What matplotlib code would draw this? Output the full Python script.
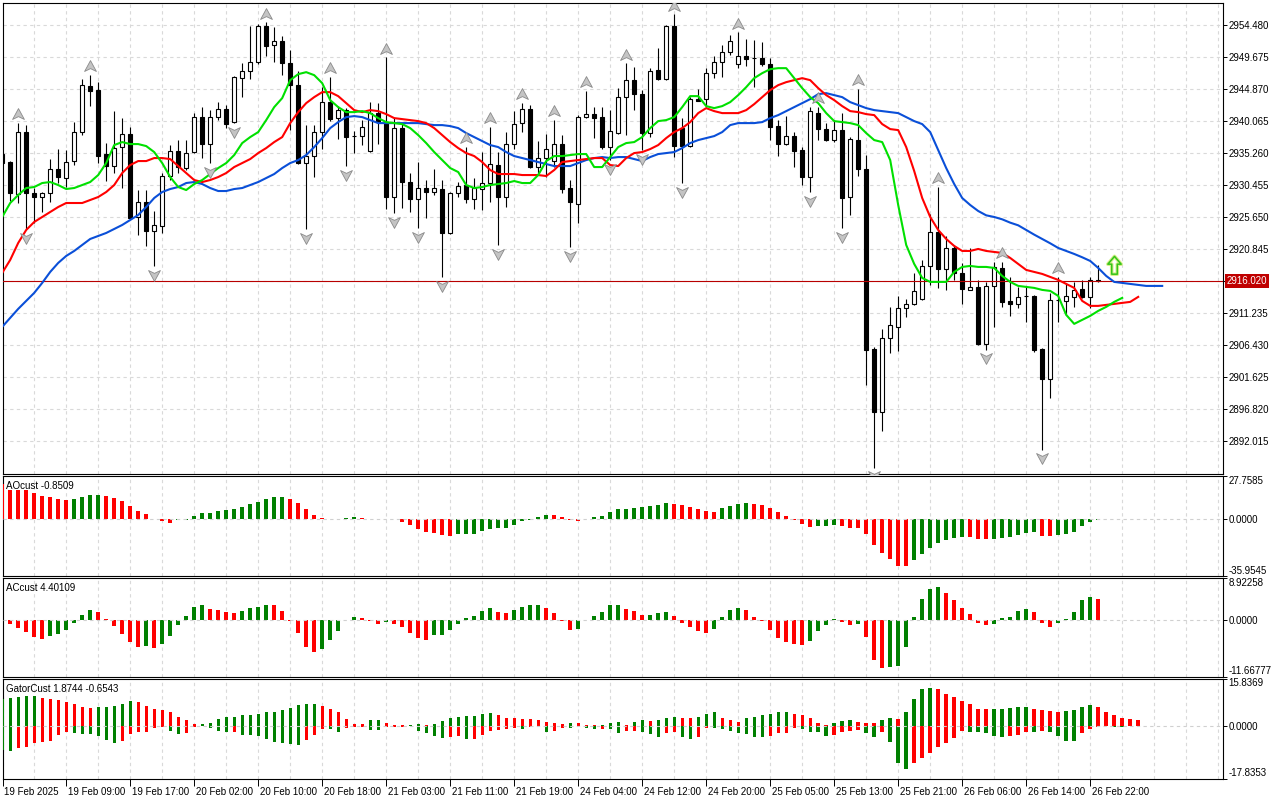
import numpy as np
import matplotlib
import matplotlib.pyplot as plt
from matplotlib.path import Path
from matplotlib.transforms import ScaledTranslation, blended_transform_factory

matplotlib.use("Agg")

plt.rcParams['font.family'] = ['Liberation Sans', 'DejaVu Sans']
plt.rcParams['font.size'] = 7

# --- H1 candles, 19 Feb 2025 00:00 .. 26 Feb 2025 ---
opens = [2935.1, 2933.9, 2929.1, 2938.4, 2929.25, 2928.65, 2929.25, 2932.85, 2931.5, 2934.05,
         2938.4, 2945.3, 2944.7, 2935.1, 2933.3, 2936.15, 2938.1, 2925.65, 2927.9, 2923.55,
         2924.3, 2931.8, 2935.55, 2933.0, 2935.4, 2940.65, 2936.6, 2940.65, 2941.85, 2939.9,
         2946.5, 2947.55, 2948.9, 2954.3, 2951.45, 2952.05, 2948.75, 2945.45, 2933.75, 2934.8,
         2938.4, 2942.9, 2940.5, 2941.7, 2937.8, 2937.8, 2935.55, 2941.25, 2939.9, 2928.65,
         2939.0, 2930.9, 2928.35, 2930.0, 2929.4, 2929.85, 2923.25, 2929.25, 2930.45, 2928.35,
         2929.85, 2930.75, 2933.45, 2928.65, 2936.6, 2939.75, 2941.85, 2933.15, 2934.5, 2934.05,
         2936.6, 2930.0, 2927.6, 2940.65, 2941.1, 2940.65, 2936.15, 2938.25, 2943.65, 2946.2,
         2944.1, 2938.25, 2947.7, 2946.35, 2954.3, 2939.0, 2936.3, 2943.35, 2943.35, 2947.25,
         2948.9, 2950.4, 2948.6, 2949.8, 2949.5, 2949.5, 2948.6, 2939.3, 2936.6, 2937.8,
         2935.7, 2931.65, 2941.25, 2938.85, 2937.2, 2938.7, 2928.65, 2937.2, 2932.85, 2905.85,
         2896.4, 2907.5, 2909.15, 2912.0, 2912.6, 2913.35, 2918.3, 2923.4, 2917.85, 2921.0,
         2917.25, 2914.7, 2915.15, 2906.6, 2915.3, 2918.0, 2913.05, 2912.6, 2913.8, 2913.8,
         2905.85, 2901.35, 2913.2, 2913.05, 2913.65, 2914.85, 2913.65, 2916.2]
highs = [2936.45, 2934.05, 2939.75, 2939.45, 2930.0, 2929.4, 2934.35, 2935.85, 2935.7, 2939.9,
         2946.35, 2946.95, 2945.9, 2936.75, 2941.55, 2940.5, 2939.15, 2929.7, 2929.7, 2926.55,
         2932.25, 2936.45, 2937.2, 2937.2, 2941.25, 2942.15, 2941.7, 2942.9, 2942.45, 2946.8,
         2948.75, 2954.3, 2954.6, 2954.9, 2954.15, 2952.8, 2950.7, 2947.55, 2939.45, 2939.45,
         2945.15, 2946.65, 2942.3, 2942.0, 2938.55, 2940.2, 2942.9, 2942.75, 2949.65, 2940.5,
         2939.75, 2932.25, 2933.9, 2931.2, 2932.85, 2931.2, 2929.4, 2930.9, 2936.15, 2931.5,
         2935.4, 2939.15, 2935.4, 2938.4, 2941.55, 2942.75, 2942.45, 2937.05, 2938.1, 2940.2,
         2937.95, 2931.2, 2940.95, 2944.55, 2942.15, 2942.15, 2941.7, 2945.0, 2948.75, 2948.15,
         2944.7, 2948.0, 2951.0, 2954.45, 2956.1, 2940.5, 2943.65, 2944.85, 2948.0, 2949.8,
         2951.45, 2952.95, 2953.4, 2952.35, 2952.2, 2951.9, 2949.5, 2940.2, 2940.8, 2938.4,
         2936.15, 2942.15, 2942.15, 2939.75, 2940.2, 2941.25, 2937.65, 2944.85, 2934.95, 2906.15,
         2908.85, 2912.15, 2913.8, 2913.35, 2917.25, 2919.2, 2926.1, 2930.15, 2922.8, 2921.45,
         2918.75, 2921.0, 2916.2, 2915.9, 2918.9, 2918.9, 2916.65, 2915.15, 2915.15, 2913.95,
         2906.0, 2914.25, 2916.65, 2915.75, 2915.9, 2916.2, 2916.65, 2918.45]
lows = [2932.7, 2928.05, 2927.75, 2923.85, 2924.75, 2926.4, 2927.9, 2930.75, 2930.15, 2933.45,
        2937.95, 2942.3, 2933.75, 2931.05, 2932.25, 2930.0, 2925.3, 2922.95, 2921.3, 2918.3,
        2923.25, 2931.2, 2932.25, 2932.7, 2935.25, 2934.5, 2933.75, 2940.2, 2939.0, 2939.75,
        2943.65, 2946.35, 2948.6, 2949.8, 2948.9, 2946.95, 2938.7, 2933.6, 2923.85, 2931.65,
        2935.85, 2940.05, 2937.35, 2933.3, 2935.25, 2936.45, 2935.4, 2936.6, 2926.85, 2926.25,
        2927.0, 2926.4, 2924.0, 2925.5, 2928.95, 2916.65, 2923.1, 2928.65, 2927.75, 2926.85,
        2926.7, 2927.9, 2921.45, 2927.15, 2935.85, 2938.4, 2933.0, 2931.95, 2931.65, 2933.15,
        2929.25, 2921.15, 2924.75, 2940.5, 2937.5, 2935.85, 2934.2, 2938.1, 2937.95, 2941.7,
        2935.7, 2937.65, 2946.2, 2946.2, 2934.65, 2930.75, 2936.15, 2943.0, 2942.15, 2946.5,
        2946.65, 2949.95, 2948.0, 2948.3, 2945.15, 2948.3, 2937.2, 2934.8, 2936.45, 2933.15,
        2930.45, 2929.4, 2937.2, 2937.05, 2936.9, 2924.0, 2925.95, 2931.8, 2900.45, 2888.0,
        2893.55, 2905.25, 2905.55, 2910.65, 2912.45, 2913.2, 2915.45, 2915.0, 2914.7, 2916.2,
        2912.6, 2914.7, 2906.45, 2905.7, 2909.15, 2912.15, 2910.8, 2912.0, 2909.9, 2905.4,
        2890.7, 2898.5, 2909.9, 2910.95, 2912.15, 2913.5, 2912.0, 2915.9]
closes = [2933.75, 2929.25, 2938.4, 2929.25, 2928.65, 2929.25, 2932.85, 2931.65, 2933.9, 2938.4,
          2945.45, 2944.55, 2934.8, 2933.3, 2936.0, 2938.1, 2925.5, 2927.9, 2923.55, 2924.45,
          2931.8, 2935.55, 2933.15, 2935.25, 2940.65, 2936.6, 2940.65, 2941.85, 2939.6, 2946.65,
          2947.55, 2948.9, 2954.3, 2951.3, 2952.05, 2948.75, 2945.45, 2933.75, 2934.8, 2938.4,
          2942.9, 2940.35, 2941.7, 2937.65, 2937.75, 2939.15, 2941.25, 2939.9, 2928.65, 2939.0,
          2930.9, 2928.35, 2930.0, 2929.4, 2930.0, 2923.25, 2929.25, 2930.3, 2928.35, 2930.0,
          2930.75, 2933.6, 2928.65, 2936.6, 2939.6, 2941.85, 2933.15, 2934.5, 2935.85, 2936.6,
          2929.85, 2927.9, 2940.65, 2941.1, 2940.5, 2936.15, 2938.55, 2943.65, 2946.2, 2944.1,
          2938.25, 2947.55, 2946.35, 2954.3, 2936.3, 2936.3, 2943.35, 2943.05, 2947.25, 2948.9,
          2950.4, 2952.05, 2949.8, 2949.35, 2949.5, 2948.6, 2939.15, 2936.6, 2937.8, 2935.55,
          2931.65, 2941.55, 2938.85, 2937.2, 2938.7, 2928.5, 2937.35, 2932.85, 2905.7, 2896.4,
          2907.5, 2909.45, 2912.0, 2912.6, 2914.55, 2918.3, 2923.4, 2917.85, 2921.0, 2917.25,
          2914.85, 2915.15, 2906.6, 2915.3, 2918.15, 2912.9, 2912.6, 2913.65, 2913.8, 2905.7,
          2901.35, 2913.2, 2913.25, 2913.8, 2914.7, 2913.65, 2916.2, 2916.02]

# Alligator lines as drawn (already shifted forward)
jaw = [2909.15, 2910.5, 2911.85, 2913.05, 2914.25, 2915.75, 2917.4, 2918.75, 2919.8, 2920.55,
       2921.45, 2922.35, 2922.8, 2923.25, 2923.85, 2924.45, 2925.2, 2925.95, 2927.15, 2928.5,
       2929.4, 2929.85, 2930.15, 2930.75, 2930.9, 2930.6, 2930.0, 2929.55, 2929.55, 2929.85,
       2930.0, 2930.45, 2930.9, 2931.5, 2932.1, 2933.0, 2933.75, 2934.2, 2934.95, 2936.15,
       2937.5, 2939.0, 2939.9, 2940.65, 2940.8, 2940.65, 2940.2, 2939.75, 2939.75, 2939.75,
       2939.75, 2939.75, 2939.75, 2939.6, 2939.45, 2939.45, 2939.3, 2939.0, 2938.25, 2937.65,
       2937.05, 2936.45, 2936.15, 2935.4, 2934.8, 2934.5, 2934.2, 2933.9, 2933.6, 2933.3,
       2933.3, 2933.3, 2933.75, 2934.2, 2934.5, 2934.65, 2934.5, 2934.65, 2934.65, 2934.35,
       2934.05, 2934.65, 2935.1, 2935.25, 2935.4, 2936.0, 2936.75, 2937.2, 2937.5, 2937.8,
       2938.4, 2939.45, 2939.75, 2939.75, 2939.75, 2939.9, 2940.5, 2940.95, 2941.55, 2942.15,
       2942.75, 2943.35, 2944.1, 2944.25, 2943.95, 2943.65, 2942.9, 2942.45, 2942.0, 2941.7,
       2941.55, 2941.4, 2941.25, 2940.65, 2940.05, 2939.6, 2938.4, 2935.7, 2933.0, 2930.6,
       2928.5, 2927.45, 2926.55, 2925.9, 2925.65, 2925.3, 2924.8, 2924.4, 2923.7, 2923.0,
       2922.35, 2921.7, 2921.0, 2920.55, 2920.1, 2919.6, 2919.05, 2918.0, 2916.8, 2915.9,
       2915.75, 2915.6, 2915.45, 2915.3, 2915.3, 2915.3]
teeth = [2917.25, 2919.2, 2921.75, 2923.7, 2924.9, 2925.65, 2926.4, 2927.15, 2927.75, 2927.75,
         2927.75, 2928.2, 2928.65, 2929.4, 2930.45, 2932.25, 2933.45, 2934.05, 2934.05, 2934.5,
         2934.5, 2934.35, 2933.3, 2932.25, 2931.2, 2930.9, 2931.2, 2931.65, 2932.25, 2933.15,
         2933.75, 2934.35, 2935.25, 2936.0, 2936.9, 2937.65, 2939.75, 2941.4, 2942.75, 2943.65,
         2944.4, 2944.4, 2943.8, 2942.75, 2941.7, 2941.4, 2941.7, 2941.55, 2941.1, 2940.5,
         2940.35, 2940.2, 2940.05, 2939.75, 2939.0, 2937.95, 2936.9, 2936.0, 2935.25, 2934.8,
         2933.9, 2932.7, 2932.1, 2932.1, 2932.1, 2931.95, 2931.95, 2931.95, 2931.8, 2932.7,
         2933.9, 2934.05, 2934.2, 2934.35, 2934.5, 2934.5, 2933.45, 2933.3, 2934.5, 2935.25,
         2935.4, 2935.85, 2936.45, 2937.5, 2938.4, 2939.0, 2939.9, 2941.25, 2942.0, 2941.55,
         2941.25, 2941.25, 2941.25, 2941.7, 2942.6, 2943.65, 2944.7, 2945.45, 2945.9, 2946.2,
         2946.5, 2946.2, 2945.0, 2943.95, 2943.2, 2942.3, 2941.55, 2941.4, 2941.1, 2940.95,
         2939.6, 2938.85, 2938.7, 2936.15, 2932.55, 2928.5, 2925.65, 2923.7, 2922.35, 2921.3,
         2920.55, 2920.55, 2920.85, 2920.55, 2920.4, 2920.25, 2919.5, 2918.6, 2917.7, 2917.4,
         2917.1, 2916.65, 2916.2, 2915.6, 2915.0, 2913.05, 2912.3, 2912.3, 2912.45, 2912.6,
         2912.75, 2912.9, 2913.65]
lips = [2925.65, 2927.75, 2928.95, 2930.0, 2930.15, 2930.75, 2930.9, 2930.45, 2929.85, 2930.0,
        2930.45, 2930.9, 2931.95, 2933.75, 2936.45, 2936.9, 2936.6, 2936.6, 2936.3, 2935.4,
        2933.75, 2931.65, 2930.15, 2929.7, 2930.6, 2931.2, 2932.1, 2933.0, 2933.75, 2934.95,
        2936.75, 2937.65, 2938.4, 2940.2, 2942.15, 2943.5, 2946.2, 2947.1, 2947.4, 2946.95,
        2945.75, 2943.2, 2942.15, 2941.4, 2941.4, 2941.55, 2941.25, 2940.5, 2939.9, 2939.75,
        2939.6, 2939.0, 2937.95, 2936.75, 2935.4, 2934.2, 2933.0, 2932.4, 2930.45, 2930.0,
        2930.15, 2930.45, 2930.6, 2930.75, 2931.05, 2930.75, 2930.75, 2931.95, 2934.05, 2934.8,
        2934.8, 2934.95, 2935.1, 2935.1, 2933.15, 2933.15, 2934.65, 2936.15, 2936.75, 2936.9,
        2937.65, 2939.0, 2940.05, 2940.2, 2940.65, 2942.15, 2943.8, 2943.8, 2942.3, 2942.0,
        2942.3, 2942.9, 2943.95, 2945.15, 2946.5, 2947.25, 2947.85, 2948.0, 2948.0, 2946.5,
        2945.0, 2943.65, 2942.75, 2941.25, 2940.05, 2939.9, 2939.75, 2939.45, 2938.25, 2937.2,
        2936.9, 2934.2, 2927.45, 2921.45, 2918.6, 2916.5, 2915.9, 2915.9, 2915.9, 2917.4,
        2918.15, 2918.3, 2918.15, 2918.15, 2918.0, 2916.8, 2915.9, 2915.3, 2915.15, 2915.0,
        2914.7, 2914.55, 2913.8, 2910.95, 2909.6, 2910.2, 2910.8, 2911.55, 2912.15, 2912.9,
        2913.5]

# Bill Williams fractals (bar indexes)
fractal_up = [2, 11, 33, 41, 48, 58, 61, 65, 69, 73, 78, 84, 92, 102, 107, 117, 125, 132]
fractal_down = [3, 19, 26, 29, 38, 43, 49, 52, 55, 62, 71, 76, 80, 85, 101, 105, 109, 123, 130]

signal_bar = 139
signal_price = 2918.2
last_price = 2916.02

price_ticks = [2954.480, 2949.675, 2944.870, 2940.065, 2935.260, 2930.455, 2925.650,
               2920.845, 2916.040, 2911.235, 2906.430, 2901.625, 2896.820, 2892.015]
main_ylim = (2887.13, 2957.86)

ao = [22.5, 18.8, 18.7, 18.4, 16.7, 14.8, 14.1, 13.1, 12.2, 13.1,
      14.1, 15.4, 15.5, 14.8, 13.5, 11.6, 8.1, 4.9, 3.2, 0.3,
      -1.5, -2.6, -0.9, -0.4, 1.9, 3.85, 3.9, 5.1, 5.8, 6.6,
      7.7, 9.6, 10.9, 13.1, 14.1, 14.2, 12.8, 10.3, 6.6, 2.6,
      0.6, 0.3, 0.2, 0.9, 1.3, 0.6, 0.2, 0.1, 0.3, -0.1,
      -1.7, -3.6, -6.4, -8.3, -9.0, -10.3, -10.9, -9.8, -9.4, -9.3,
      -7.5, -6.2, -6.0, -5.9, -3.9, -1.1, -0.4, 1.3, 2.6, 2.5,
      1.3, -0.6, -1.3, -0.2, 1.3, 2.1, 4.5, 6.4, 6.5, 7.1,
      7.9, 8.6, 9.2, 10.3, 9.6, 9.0, 7.7, 6.4, 5.1, 4.5,
      7.3, 8.6, 9.6, 10.3, 9.6, 9.0, 7.1, 4.5, 1.9, -0.4,
      -3.0, -4.9, -4.3, -4.25, -3.6, -4.3, -5.6, -5.65, -9.4, -16.5,
      -21.6, -25.5, -30.0, -30.1, -26.1, -22.3, -18.4, -15.2, -13.3, -12.0,
      -11.3, -11.4, -12.6, -12.7, -12.6, -12.0, -11.3, -10.1, -8.8, -8.1,
      -10.7, -10.8, -10.1, -9.4, -8.1, -4.3, -1.7, -0.8509]
ac = [0.1, -0.83, -1.58, -2.41, -3.44, -3.85, -3.30, -2.89, -2.06, -0.55,
      1.03, 2.06, 1.65, 0.28, -1.24, -2.89, -4.47, -5.50, -5.30, -5.71,
      -4.95, -3.30, -1.03, 0.83, 2.89, 3.30, 2.27, 2.06, 1.65, 1.44,
      1.86, 2.68, 2.89, 3.30, 3.10, 1.86, -0.14, -2.61, -5.50, -6.54,
      -5.92, -4.06, -2.20, 0.05, 0.62, 0.41, -0.21, -0.76, -0.34, -0.76,
      -1.38, -2.61, -3.65, -4.06, -3.10, -3.09, -2.00, -0.76, 0.41, 0.83,
      1.86, 2.48, 1.65, 1.44, 2.06, 2.89, 3.10, 3.30, 2.68, 1.44,
      -0.14, -2.06, -1.79, 0.14, 0.83, 1.65, 3.10, 3.30, 2.27, 1.86,
      1.03, 1.04, 1.44, 1.65, 0.83, -0.55, -1.38, -2.20, -2.61, -1.79,
      0.62, 2.06, 2.48, 2.06, 0.62, -0.14, -2.00, -3.65, -4.47, -4.88,
      -5.09, -4.27, -2.20, -0.96, 0.21, -0.34, -0.96, -0.76, -3.44, -8.19,
      -9.84, -9.63, -9.43, -5.50, 0.62, 4.54, 6.60, 7.02, 5.78, 4.33,
      2.68, 1.24, -0.55, -0.96, -0.76, 0.41, 0.62, 1.86, 2.27, 1.65,
      -0.55, -1.38, -0.55, 0.21, 1.65, 4.33, 4.95, 4.40109]
gator_up = [8.9, 9.2, 9.6, 9.8, 9.85, 9.3, 8.8, 8.6, 7.8, 7.1,
            6.1, 5.9, 6.1, 6.2, 6.5, 7.3, 8.1, 8.0, 6.6, 5.7,
            5.2, 4.5, 2.9, 1.7, 0.45, 0.5, 1.0, 2.1, 2.8, 3.0,
            3.4, 3.45, 3.9, 4.4, 4.6, 5.3, 5.9, 7.0, 7.1, 7.15,
            6.6, 5.7, 4.6, 2.1, 0.6, 0.55, 1.8, 1.85, 1.0, 0.3,
            0.25, 0.3, 0.45, 0.3, 0.35, 1.5, 2.4, 2.8, 3.2, 3.3,
            3.8, 4.1, 3.4, 2.5, 2.4, 2.1, 2.05, 1.9, 1.1, 0.9,
            0.45, 1.0, 0.7, 0.25, 0.05, 0.15, 1.0, 1.35, 0.15, 1.35,
            1.7, 1.65, 1.7, 2.4, 3.0, 2.7, 2.65, 3.0, 4.05, 4.4,
            2.7, 1.7, 1.35, 2.4, 3.0, 3.4, 4.05, 4.4, 4.45, 4.05,
            3.7, 2.7, 1.0, 0.15, 1.0, 1.6, 2.0, 1.35, 1.0, 0.95,
            1.7, 2.4, 2.35, 4.4, 8.8, 12.2, 12.8, 12.3, 10.5, 9.5,
            8.4, 7.1, 5.7, 5.4, 5.45, 5.5, 5.75, 6.1, 6.15, 5.4,
            5.1, 4.85, 4.6, 4.85, 5.1, 6.4, 6.75, 6.1, 4.4, 3.4,
            2.7, 2.35, 1.8744]
gator_down = [8.2, 8.7, 7.7, 7.3, 6.0, 5.6, 5.3, 3.3, 2.25, 2.6,
              2.9, 2.95, 3.6, 5.0, 6.0, 5.3, 2.9, 2.3, 2.2, 0.8,
              0.5, 1.8, 2.9, 2.5, 0.6, 0.3, 0.9, 1.8, 2.25, 2.1,
              3.2, 3.25, 3.5, 4.6, 5.4, 6.0, 6.3, 6.4, 4.8, 3.3,
              1.0, 1.2, 2.2, 0.9, 0.5, 0.4, 1.4, 1.5, 0.6, 0.5,
              0.4, 0.3, 1.8, 2.6, 3.4, 4.05, 3.9, 3.4, 4.6, 4.4,
              3.3, 1.7, 1.5, 1.2, 0.9, 1.2, 0.5, 0.2, 2.25, 2.0,
              0.8, 0.9, 0.55, 0.7, 1.25, 1.2, 1.3, 2.6, 1.8, 1.7,
              2.25, 2.9, 3.7, 2.6, 2.25, 3.7, 4.6, 3.7, 0.9, 0.95,
              1.0, 1.7, 2.6, 2.9, 3.7, 3.75, 3.4, 2.6, 2.55, 0.9,
              1.25, 2.25, 2.3, 3.4, 3.35, 2.25, 1.7, 1.65, 2.6, 3.7,
              2.25, 5.4, 12.5, 14.75, 12.5, 10.8, 9.1, 7.3, 6.0, 4.05,
              2.0, 2.25, 2.3, 2.35, 3.4, 3.9, 3.4, 3.35, 2.25, 2.3,
              2.0, 2.25, 3.4, 5.2, 5.25, 2.6, 1.25, 0.6, 0.25, 0.45,
              0.6543]

ao_ylim = (-35.9545, 27.7585)
ac_ylim = (-11.66777, 8.92258)
gator_ylim = (-17.8353, 15.8369)

time_ticks = [0, 8, 16, 24, 32, 40, 48, 56, 64, 72, 80, 88, 96, 104, 112, 120, 128, 136]
time_labels = ['19 Feb 2025', '19 Feb 09:00', '19 Feb 17:00', '20 Feb 02:00', '20 Feb 10:00',
               '20 Feb 18:00', '21 Feb 03:00', '21 Feb 11:00', '21 Feb 19:00', '24 Feb 04:00',
               '24 Feb 12:00', '24 Feb 20:00', '25 Feb 05:00', '25 Feb 13:00', '25 Feb 21:00',
               '26 Feb 06:00', '26 Feb 14:00', '26 Feb 22:00']

GREEN = '#008000'
RED = '#ff0000'
GRID = '#d9d9d9'

W, H = 1280, 800
fig = plt.figure(figsize=(12.8, 8), dpi=100)
fig.patch.set_facecolor('white')


def px_axes(top, bottom, left=2.5, right=1222.5):
    return fig.add_axes([left / W, 1 - bottom / H, (right - left) / W, (bottom - top) / H])


ax = px_axes(2.5, 473.5)
ax_ao = px_axes(475.5, 575.5)
ax_ac = px_axes(577.5, 676.5)
ax_gt = px_axes(678.5, 778.5)

xlim = (0.0375, 152.5375)
for a in (ax, ax_ao, ax_ac, ax_gt):
    a.set_xlim(*xlim)
    for s in a.spines.values():
        s.set_linewidth(0.8)
        s.set_color('black')
    a.yaxis.tick_right()
    a.tick_params(axis='y', length=3, width=0.7, pad=1.5, labelsize=7, colors='black')
    a.tick_params(axis='x', length=0)
    a.set_xticks([])
    # vertical dashed grid every 4 bars
    for gx in range(0, 153, 4):
        a.axvline(gx, color=GRID, lw=0.8, ls=(0, (3, 3)), zorder=0)

# ---------------- main chart ----------------
o, hi, lo, c = map(np.array, (opens, highs, lows, closes))
x = np.arange(len(o))
ax.set_ylim(*main_ylim)
for p in price_ticks:
    ax.axhline(p, color=GRID, lw=0.8, ls=(0, (3, 3)), zorder=0)

ax.vlines(x, lo, hi, color='black', lw=0.8, zorder=3)
bull = c > o
ax.bar(x, np.abs(c - o), bottom=np.minimum(o, c), width=0.5,
       color=np.where(bull, 'white', 'black'), edgecolor='black', lw=0.8, zorder=4)

ax.axhline(last_price, color='#b80000', lw=0.8, zorder=4.5)

ax.plot(np.arange(len(jaw)), jaw, color='#0a4fd8', lw=1.5, zorder=5)
ax.plot(np.arange(len(teeth)), teeth, color='#ff0000', lw=1.5, zorder=5)
ax.plot(np.arange(len(lips)), lips, color='#00e000', lw=1.5, zorder=5)

# fractal arrow heads
up_head = Path([(0, 0.5), (0.5, -0.42), (0, -0.18), (-0.5, -0.42), (0, 0.5)],
               [Path.MOVETO, Path.LINETO, Path.LINETO, Path.LINETO, Path.CLOSEPOLY])
down_head = Path([(0, -0.5), (0.5, 0.42), (0, 0.18), (-0.5, 0.42), (0, -0.5)],
                 [Path.MOVETO, Path.LINETO, Path.LINETO, Path.LINETO, Path.CLOSEPOLY])
fu = np.array(fractal_up)
fd = np.array(fractal_down)
ax.plot(fu, hi[fu] + 1.3, ls='none', marker=up_head, ms=8.5, mfc='#c4c4c4', mec='#8a8a8a',
        mew=0.6, zorder=6)
ax.plot(fd, lo[fd] - 1.3, ls='none', marker=down_head, ms=8.5, mfc='#c4c4c4', mec='#8a8a8a',
        mew=0.6, zorder=6)

# hollow green signal arrow
arrow_path = Path([(0, 1), (0.6, 0.3), (0.25, 0.3), (0.25, -0.6), (-0.25, -0.6),
                   (-0.25, 0.3), (-0.6, 0.3), (0, 1)],
                  [Path.MOVETO] + [Path.LINETO] * 6 + [Path.CLOSEPOLY])
ax.plot([signal_bar], [signal_price], ls='none', marker=arrow_path, ms=16, mfc='none',
        mec='#d6ee8a', mew=2.6, zorder=6)
ax.plot([signal_bar], [signal_price], ls='none', marker=arrow_path, ms=16, mfc='none',
        mec='#33c41a', mew=1.1, zorder=6)

ax.set_yticks(price_ticks)
ax.set_yticklabels(['' if abs(p - last_price) < 0.1 else f'{p:.3f}' for p in price_ticks])

box_tr = blended_transform_factory(ax.transAxes, ax.transData) + \
    ScaledTranslation(4 / 100, 0, fig.dpi_scale_trans)
ax.text(1.0, last_price, f'{last_price:.3f}', transform=box_tr, ha='left', va='center',
        color='white', fontsize=7, clip_on=False, zorder=10,
        bbox=dict(boxstyle='square,pad=0.2', fc='#c00000', ec='none'))


# ---------------- oscillators ----------------
def histogram(a, vals, first_up, sign=1.0):
    v = np.asarray(vals, dtype=float)
    rising = np.r_[first_up, np.diff(v) > 0]
    a.bar(np.arange(len(v)), sign * v, width=0.45, color=np.where(rising, GREEN, RED),
          lw=0, zorder=3)


def osc_axis(a, lims, labels, title):
    a.set_ylim(*lims)
    a.axhline(0, color='#d0d0d0', lw=0.8, ls=(0, (3, 3)), zorder=5)
    a.set_yticks([lims[1], 0, lims[0]])
    a.set_yticklabels(labels)
    tl = a.get_yticklabels()
    tl[0].set_va('top')
    tl[2].set_va('bottom')
    a.text(0.003, 0.895, title, transform=a.transAxes, ha='left', va='center', fontsize=7)


histogram(ax_ao, ao, False)
osc_axis(ax_ao, ao_ylim, ['27.7585', '0.0000', '-35.9545'], f'AOcust {ao[-1]:.4f}')

histogram(ax_ac, ac, False)
osc_axis(ax_ac, ac_ylim, ['8.92258', '0.0000', '-11.66777'], f'ACcust {ac[-1]:.5f}')

histogram(ax_gt, gator_up, True)
histogram(ax_gt, gator_down, True, sign=-1.0)
osc_axis(ax_gt, gator_ylim, ['15.8369', '0.0000', '-17.8353'],
         f'GatorCust {gator_up[-1]:.4f} {-gator_down[-1]:.4f}')

# time scale under the last pane
ax_gt.set_xticks(time_ticks)
ax_gt.set_xticklabels(time_labels, ha='left', fontsize=7)
ax_gt.tick_params(axis='x', length=5, width=0.7, pad=1, direction='out')
for lab in ax_gt.get_xticklabels():
    lab.set_transform(lab.get_transform() + ScaledTranslation(1.5 / 100, 0, fig.dpi_scale_trans))

fig.savefig('out.png', dpi=100, facecolor='white')
